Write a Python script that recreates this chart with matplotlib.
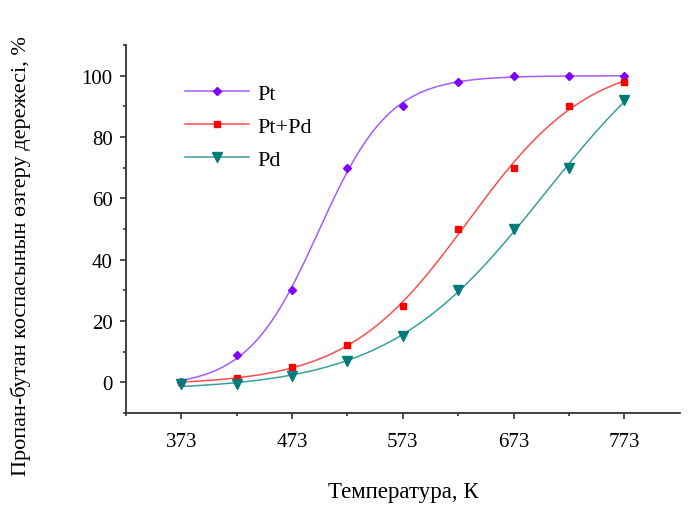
import numpy as np
import matplotlib
matplotlib.use("Agg")
import matplotlib.pyplot as plt
from matplotlib.ticker import MultipleLocator, FixedLocator

# data
temps = [373, 423, 473, 523, 573, 623, 673, 723, 773]
pt = [0, 9, 30, 70, 90, 98, 100, 100, 100]
ptpd = [0, 1.3, 5, 12.3, 25, 50, 70, 90, 98]
pd_ = [-0.5, -0.5, 2, 7, 15, 30, 50, 70, 92]


def boltz(x, p):
    a1, a2, x0, dx = p
    return a2 + (a1 - a2) / (1 + np.exp((x - x0) / dx))


def fit(x, y):
    # small Levenberg-Marquardt for the Boltzmann curve
    x = np.asarray(x, float); y = np.asarray(y, float)
    mid = (y.min() + y.max()) / 2
    p = np.array([y.min(), y.max() * 1.05, x[np.argmin(abs(y - mid))], 40.0])
    lam = 1e-2
    def res(p): return boltz(x, p) - y
    for _ in range(500):
        r = res(p)
        J = np.empty((len(x), 4))
        for i in range(4):
            h = 1e-6 * max(1, abs(p[i]))
            q = p.copy(); q[i] += h
            J[:, i] = (res(q) - r) / h
        A = J.T @ J
        step = np.linalg.solve(A + lam * np.diag(np.diag(A)), -J.T @ r)
        pn = p + step
        if np.sum(res(pn) ** 2) < np.sum(r ** 2):
            p = pn; lam *= 0.5
        else:
            lam *= 3
    return p


plt.rcParams["font.family"] = ["Liberation Serif", "DejaVu Serif"]
fig = plt.figure(figsize=(6.88, 5.06), dpi=100)
ax = fig.add_axes([0.183, 0.182, 0.805, 0.727])

series = [("Pt", pt, "#7f00ff", "#a35cff", "D", 4.5),
          ("Pt+Pd", ptpd, "#ff0000", "#ff4d4d", "s", 5),
          ("Pd", pd_, "#007b7b", "#3a9e9e", "v", 7)]
xs = np.linspace(temps[0], temps[-1], 300)
for name, vals, mc, lc, mk, ms in series:
    p = fit(temps, vals)
    ax.plot(xs, boltz(xs, p), color=lc, lw=1.1)
    ax.plot(temps, vals, ls="none", marker=mk, ms=ms, color=mc)
    ax.plot([], [], color=lc, lw=1.1, marker=mk, ms=ms, mfc=mc, mec=mc, label=name)

ax.set_xlim(323, 823)
ax.set_ylim(-10, 110)
ax.xaxis.set_major_locator(FixedLocator([373, 473, 573, 673, 773]))
ax.xaxis.set_minor_locator(FixedLocator([323, 423, 523, 623, 723]))
ax.yaxis.set_major_locator(FixedLocator([0, 20, 40, 60, 80, 100]))
ax.yaxis.set_minor_locator(MultipleLocator(10))
for s in ["top", "right"]:
    ax.spines[s].set_visible(False)
for s in ["left", "bottom"]:
    ax.spines[s].set_linewidth(1.3)
    ax.spines[s].set_color("#333333")
ax.tick_params(which="major", length=4.5, width=1.2, labelsize=15, color="#333333")
ax.tick_params(which="minor", length=2.5, width=1.2, color="#333333")
ax.tick_params(axis="x", pad=9)
ax.tick_params(axis="y", pad=5)

ax.set_xlabel("Температура, К", fontsize=16.5)
ax.set_ylabel("Пропан-бутан коспасынын өзгеру дережесі, %", fontsize=16)
ax.xaxis.set_label_coords(0.5, -0.185)
ax.yaxis.set_label_coords(-0.172, 0.43)

leg = ax.legend(loc="upper left", bbox_to_anchor=(0.07, 0.95), frameon=False,
                fontsize=16, handlelength=2.9, labelspacing=0.55, handletextpad=0.35)

fig.savefig("out.png", dpi=100)
